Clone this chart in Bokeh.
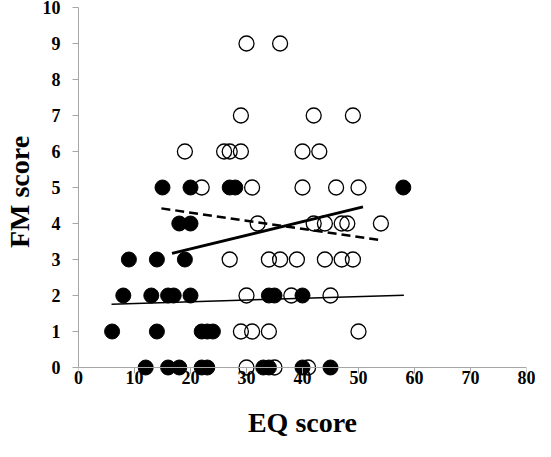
from bokeh.plotting import figure
from bokeh.models import Range1d, FixedTicker, LinearAxis
from bokeh.embed import file_html
from bokeh.resources import INLINE

# Open circles (group A)
open_x = [30, 36,
          29, 42, 49,
          19, 26, 27, 29, 40, 43,
          22, 31, 40, 46, 50,
          32, 42, 44, 47, 48, 54,
          27, 34, 36, 39, 44, 47, 49,
          30, 38, 45,
          29, 31, 34, 50,
          30, 35, 41]
open_y = [9, 9,
          7, 7, 7,
          6, 6, 6, 6, 6, 6,
          5, 5, 5, 5, 5,
          4, 4, 4, 4, 4, 4,
          3, 3, 3, 3, 3, 3, 3,
          2, 2, 2,
          1, 1, 1, 1,
          0, 0, 0]

# Filled circles (group B)
fill_x = [15, 20, 27, 28, 58,
          18, 20,
          9, 14, 19,
          8, 13, 16, 17, 20, 34, 35, 40,
          6, 14, 22, 23, 24,
          12, 16, 18, 22, 23, 33, 34, 40, 45]
fill_y = [5, 5, 5, 5, 5,
          4, 4,
          3, 3, 3,
          2, 2, 2, 2, 2, 2, 2, 2,
          1, 1, 1, 1, 1,
          0, 0, 0, 0, 0, 0, 0, 0, 0]

# Trend lines (end points)
trend_thick_x = [16.7, 50.8]
trend_thick_y = [3.17, 4.46]
trend_dash_x = [14.8, 53.9]
trend_dash_y = [4.42, 3.54]
trend_thin_x = [5.9, 58.1]
trend_thin_y = [1.76, 2.01]

x_ticks = [0, 10, 20, 30, 40, 50, 60, 70, 80]
y_ticks = [0, 1, 2, 3, 4, 5, 6, 7, 8, 9, 10]

FONT = "Liberation Serif"
AXIS_COLOR = "#a6a6a6"

p = figure(width=535, height=441, output_backend="svg", toolbar_location=None,
           x_range=Range1d(0, 80), y_range=Range1d(-0.25, 10),
           min_border_left=73, min_border_right=9, min_border_top=7,
           min_border_bottom=65)
p.outline_line_color = None
p.grid.grid_line_color = None
p.background_fill_color = "white"
p.border_fill_color = "white"

p.line(trend_thin_x, trend_thin_y, line_color="black", line_width=1.5)
p.line(trend_dash_x, trend_dash_y, line_color="black", line_width=2.5, line_dash="9 5")
p.line(trend_thick_x, trend_thick_y, line_color="black", line_width=2.8)

p.scatter(open_x, open_y, size=15, marker="circle", fill_color=None,
          line_color="black", line_width=1.3)
p.scatter(fill_x, fill_y, size=15, marker="circle", fill_color="black",
          line_color="black", line_width=1.0)

# Axis line and ticks drawn at y = 0 (labels come from the regular axis below)
zero_axis = LinearAxis(fixed_location=0, ticker=FixedTicker(ticks=x_ticks),
                       axis_line_color=AXIS_COLOR, axis_line_width=1,
                       major_tick_line_color=AXIS_COLOR, major_tick_in=0,
                       major_tick_out=6, minor_tick_line_color=None,
                       major_label_text_color=None)
p.add_layout(zero_axis, "below")

xa = p.xaxis[0]
xa.ticker = FixedTicker(ticks=x_ticks)
xa.axis_label = "EQ score"
xa.axis_line_color = None
xa.major_tick_line_color = None
xa.major_tick_in = 0
xa.major_tick_out = 0
xa.minor_tick_line_color = None

ya = p.yaxis[0]
ya.ticker = FixedTicker(ticks=y_ticks)
ya.bounds = (0, 10)
ya.axis_label = "FM score"
ya.axis_line_color = AXIS_COLOR
ya.axis_line_width = 1
ya.major_tick_line_color = AXIS_COLOR
ya.major_tick_in = 0
ya.major_tick_out = 6
ya.minor_tick_line_color = None

for ax in (xa, ya):
    ax.major_label_text_font = FONT
    ax.major_label_text_font_style = "bold"
    ax.major_label_text_font_size = "18px"
    ax.major_label_text_color = "black"
    ax.axis_label_text_font = FONT
    ax.axis_label_text_font_style = "bold"
    ax.axis_label_text_font_size = "28px"
    ax.axis_label_text_color = "black"

xa.major_label_standoff = -6
xa.axis_label_standoff = 20
ya.major_label_standoff = 12
ya.axis_label_standoff = 5

open("out.html", "w").write(file_html(p, INLINE))
